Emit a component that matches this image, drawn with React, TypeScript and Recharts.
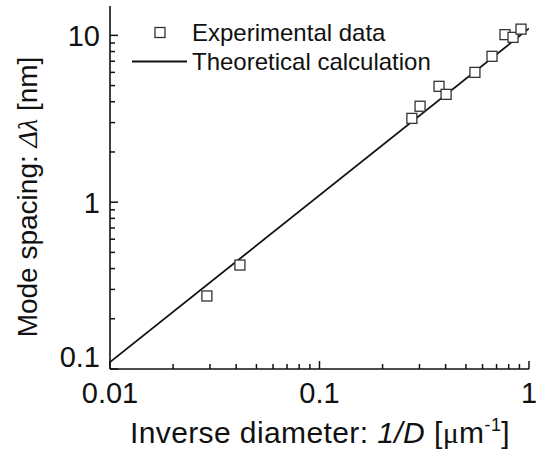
import React from "react";
import {
  ScatterChart,
  Scatter,
  XAxis,
  YAxis,
  Legend,
} from "recharts";

// measured points (1/D in um^-1, mode spacing in nm)
const expX = [0.029, 0.0417, 0.276, 0.302, 0.372, 0.402, 0.552, 0.666, 0.768, 0.839, 0.916];
const expY = [0.274, 0.42, 3.18, 3.76, 4.95, 4.43, 6.0, 7.49, 10.1, 9.73, 10.9];

// theoretical line end points
const theoryX = [0.01, 1];
const theoryY = [0.11, 11];

const X_TICKS = [
  0.01, 0.02, 0.03, 0.04, 0.05, 0.06, 0.07, 0.08, 0.09,
  0.1, 0.2, 0.3, 0.4, 0.5, 0.6, 0.7, 0.8, 0.9, 1,
];
const X_LABELS = [0.01, 0.1, 1];
const Y_TICKS = [
  0.1, 0.2, 0.3, 0.4, 0.5, 0.6, 0.7, 0.8, 0.9,
  1, 2, 3, 4, 5, 6, 7, 8, 9, 10,
];
const Y_LABELS = [0.1, 1, 10];

const FONT = "'Liberation Sans', Arial, sans-serif";
const SERIF = "'Liberation Serif', 'Times New Roman', serif";
const INK = "#111";

const expData = expX.map((x, i) => ({ x, y: expY[i] }));
const theoryData = theoryX.map((x, i) => ({ x, y: theoryY[i] }));

const tickLen = (v: number, majors: number[]) => (majors.includes(v) ? 8 : 5);

function BottomTick({ x, y, payload }: any) {
  const v = payload.value;
  return (
    <g>
      <line x1={x} x2={x} y1={y} y2={y - tickLen(v, X_LABELS)} stroke={INK} strokeWidth={1.5} />
      {X_LABELS.includes(v) && (
        <text x={x} y={y + 34} textAnchor="middle" fontFamily={FONT} fontSize={29} fill={INK}>
          {String(v)}
        </text>
      )}
    </g>
  );
}

function TopTick({ x, y, payload }: any) {
  const v = payload.value;
  return <line x1={x} x2={x} y1={y} y2={y + tickLen(v, X_LABELS)} stroke={INK} strokeWidth={1.5} />;
}

function LeftTick({ x, y, payload }: any) {
  const v = payload.value;
  // lowest label sits a little higher so it clears the 0.01 below it
  const shift = v === 0.1 ? -13 : 0;
  return (
    <g>
      <line x1={x} x2={x + tickLen(v, Y_LABELS)} y1={y} y2={y} stroke={INK} strokeWidth={1.5} />
      {Y_LABELS.includes(v) && (
        <text x={x - 10} y={y + 10.5 + shift} textAnchor="end" fontFamily={FONT} fontSize={29} fill={INK}>
          {String(v)}
        </text>
      )}
    </g>
  );
}

function RightTick({ x, y, payload }: any) {
  const v = payload.value;
  return <line x1={x} x2={x - tickLen(v, Y_LABELS)} y1={y} y2={y} stroke={INK} strokeWidth={1.5} />;
}

function Square({ cx, cy }: any) {
  return <rect x={cx - 5} y={cy - 5} width={10} height={10} fill="#fff" stroke="#333" strokeWidth={1.3} />;
}

function LegendBox() {
  const row = { display: "flex", alignItems: "center", height: 29 } as const;
  const txt = { fontFamily: FONT, fontSize: 24, color: INK, whiteSpace: "nowrap" } as const;
  return (
    <div>
      <div style={row}>
        <svg width={62} height={29}>
          <rect x={25} y={9.5} width={10} height={10} fill="#fff" stroke="#333" strokeWidth={1.3} />
        </svg>
        <span style={txt}>Experimental data</span>
      </div>
      <div style={row}>
        <svg width={62} height={29}>
          <line x1={2} x2={57} y1={14.5} y2={14.5} stroke={INK} strokeWidth={1.8} />
        </svg>
        <span style={txt}>Theoretical calculation</span>
      </div>
    </div>
  );
}

export default function App() {
  return (
    <div style={{ width: 536, height: 452, position: "relative" }}>
      <style>{`body{margin:0}`}</style>
      <ScatterChart width={536} height={452} margin={{ top: 6, right: 7, bottom: 3, left: 10 }}>
        <XAxis
          dataKey="x"
          type="number"
          scale="log"
          domain={[0.01, 1]}
          allowDataOverflow
          ticks={X_TICKS}
          interval={0}
          height={80}
          tickSize={0}
          tickMargin={0}
          tick={<BottomTick />}
          axisLine={{ stroke: INK, strokeWidth: 1.6 }}
          label={{
            content: () => (
              <text
                x={320}
                y={443}
                textAnchor="middle"
                fontFamily={FONT}
                fontSize={30}
                letterSpacing={0.4}
                fill={INK}
              >
                Inverse diameter:{" "}
                <tspan fontStyle="italic">1/D</tspan> [<tspan fontFamily={SERIF}>μ</tspan>m
                <tspan dy={-12} fontSize={18}>-1</tspan>
                <tspan dy={12}>]</tspan>
              </text>
            ),
          }}
        />
        <XAxis
          xAxisId="top"
          orientation="top"
          dataKey="x"
          type="number"
          scale="log"
          domain={[0.01, 1]}
          allowDataOverflow
          ticks={X_TICKS}
          interval={0}
          height={0}
          tickSize={0}
          tickMargin={0}
          tick={<TopTick />}
          axisLine={{ stroke: INK, strokeWidth: 1.6 }}
        />
        <YAxis
          dataKey="y"
          type="number"
          scale="log"
          domain={[0.1, 15]}
          allowDataOverflow
          ticks={Y_TICKS}
          interval={0}
          width={100}
          tickSize={0}
          tickMargin={0}
          tick={<LeftTick />}
          axisLine={{ stroke: INK, strokeWidth: 1.6 }}
          label={{
            content: () => (
              <text
                x={37}
                y={197}
                transform="rotate(-90 37 197)"
                textAnchor="middle"
                fontFamily={FONT}
                fontSize={28}
                fill={INK}
              >
                Mode spacing:{" "}
                <tspan fontFamily={SERIF} fontStyle="italic">Δλ</tspan> [nm]
              </text>
            ),
          }}
        />
        <YAxis
          yAxisId="right"
          orientation="right"
          dataKey="y"
          type="number"
          scale="log"
          domain={[0.1, 15]}
          allowDataOverflow
          ticks={Y_TICKS}
          interval={0}
          width={0}
          tickSize={0}
          tickMargin={0}
          tick={<RightTick />}
          axisLine={{ stroke: INK, strokeWidth: 1.6 }}
        />
        <Legend
          layout="horizontal"
          verticalAlign="middle"
          align="center"
          content={<LegendBox />}
          wrapperStyle={{ top: 18, left: 130, width: "auto" }}
        />
        <Scatter
          data={theoryData}
          line={{ stroke: INK, strokeWidth: 1.8 }}
          shape={() => <g />}
          isAnimationActive={false}
          legendType="none"
        />
        <Scatter data={expData} shape={<Square />} isAnimationActive={false} />
      </ScatterChart>
    </div>
  );
}
